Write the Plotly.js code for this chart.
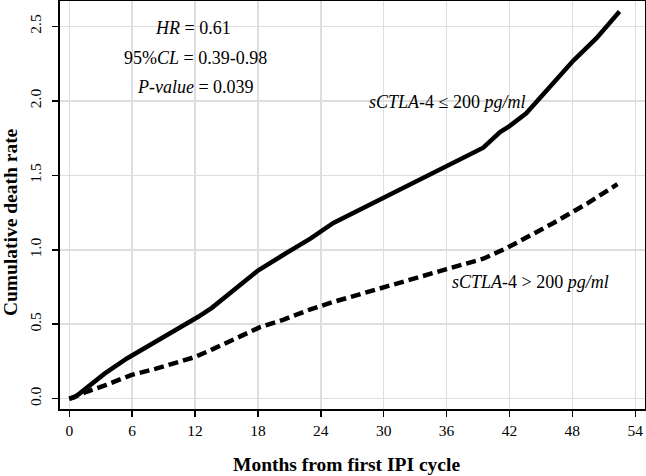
<!DOCTYPE html>
<html>
<head>
<meta charset="utf-8">
<script src="https://cdn.plot.ly/plotly-3.0.1.min.js"></script>
<style>html,body{margin:0;padding:0;background:#fff;}</style>
</head>
<body>
<div id="chart" style="width:646px;height:476px;"></div>
<script>
// Solid curve: sCTLA-4 <= 200 pg/ml
const lowMonths = [0, 0.5, 1, 1.8, 3.4, 5.5, 8.2, 10.1, 12.3, 13.6, 14.5, 15.6, 16.9, 18.0, 20.4, 23.0, 25.2, 27.6, 30.0, 33.0, 36.0, 39.5, 41.1, 42.0, 43.6, 45.5, 48.1, 50.3, 52.5];
const lowRate   = [0, 0.01, 0.036, 0.08, 0.17, 0.27, 0.38, 0.46, 0.55, 0.61, 0.66, 0.73, 0.80, 0.86, 0.965, 1.075, 1.18, 1.265, 1.35, 1.45, 1.555, 1.685, 1.79, 1.83, 1.916, 2.07, 2.27, 2.42, 2.60];
// Dashed curve: sCTLA-4 > 200 pg/ml
const highMonths = [0, 1, 1.8, 3.4, 5.95, 8.2, 10.7, 12.0, 13.6, 14.5, 15.6, 16.9, 18.2, 20.4, 23.0, 25.2, 27.6, 30.0, 33.0, 36.0, 39.5, 41.7, 43.3, 46.2, 49.4, 52.3];
const highRate   = [0, 0.03, 0.05, 0.09, 0.16, 0.20, 0.25, 0.28, 0.33, 0.36, 0.40, 0.44, 0.48, 0.53, 0.60, 0.65, 0.70, 0.75, 0.81, 0.87, 0.94, 1.01, 1.07, 1.18, 1.31, 1.44];

const xTicks = [0, 6, 12, 18, 24, 30, 36, 42, 48, 54];
const yTicks = [0.0, 0.5, 1.0, 1.5, 2.0, 2.5];
const yTickText = ["0.0", "0.5", "1.0", "1.5", "2.0", "2.5"];

const statLines = ["<i>HR</i> = 0.61", "95%<i>CL</i> = 0.39-0.98", "<i>P-value</i> = 0.039"];
const groupLabels = ["<i>sCTLA</i>-4 \u2264 200 <i>pg/ml</i>", "<i>sCTLA</i>-4 > 200 <i>pg/ml</i>"];
const xTitle = "<b>Months from first IPI cycle</b>";
const yTitle = "<b>Cumulative death rate</b>";

const FONT = "Liberation Serif, Times New Roman, serif";

const traces = [
  {x: lowMonths, y: lowRate, mode: "lines", line: {color: "#000", width: 4.5}, hoverinfo: "skip"},
  {x: highMonths, y: highRate, mode: "lines", line: {color: "#000", width: 4.5, dash: "10px,5px"}, hoverinfo: "skip"}
];

const annotations = [
  {x: 11.8, y: 2.49, text: statLines[0]},
  {x: 12.0, y: 2.287, text: statLines[1]},
  {x: 12.0, y: 2.09, text: statLines[2]},
  {x: 36.0, y: 1.994, text: groupLabels[0]},
  {x: 44.0, y: 0.785, text: groupLabels[1]}
].map(a => Object.assign({xref: "x", yref: "y", showarrow: false, xanchor: "center", yanchor: "middle",
  font: {family: FONT, size: 18, color: "#000"}}, a));

annotations.push({xref: "paper", yref: "paper", x: 0.490, y: -0.137, text: xTitle, showarrow: false,
  xanchor: "center", yanchor: "middle", font: {family: FONT, size: 19.5, color: "#000"}});
annotations.push({xref: "paper", yref: "paper", x: -0.0855, y: 0.458, text: yTitle, showarrow: false,
  textangle: -90, xanchor: "center", yanchor: "middle", font: {family: FONT, size: 19.5, color: "#000"}});

const layout = {
  width: 646, height: 476,
  margin: {l: 60, r: 1, t: 1, b: 67},
  paper_bgcolor: "#fff", plot_bgcolor: "#fff",
  showlegend: false,
  font: {family: FONT, color: "#000"},
  xaxis: {
    range: [-0.887, 54.93],
    tickvals: xTicks, ticktext: xTicks.map(String),
    ticks: "outside", ticklen: 6, tickwidth: 1.5, tickcolor: "#000",
    showline: true, linecolor: "#000", linewidth: 2, mirror: true,
    showgrid: true, gridcolor: "#dedede", gridwidth: 1.5, zeroline: false,
    tickfont: {family: FONT, size: 15.5, color: "#000"}
  },
  yaxis: {
    range: [-0.069, 2.67],
    tickvals: yTicks, ticktext: yTickText,
    tickangle: -90,
    ticks: "outside", ticklen: 6, tickwidth: 1.5, tickcolor: "#000",
    ticklabelstandoff: 5,
    showline: true, linecolor: "#000", linewidth: 2, mirror: true,
    showgrid: true, gridcolor: "#dedede", gridwidth: 1.5, zeroline: false,
    tickfont: {family: FONT, size: 15.5, color: "#000"}
  },
  annotations: annotations
};

Plotly.newPlot("chart", traces, layout, {displayModeBar: false, staticPlot: true});
</script>
</body>
</html>
